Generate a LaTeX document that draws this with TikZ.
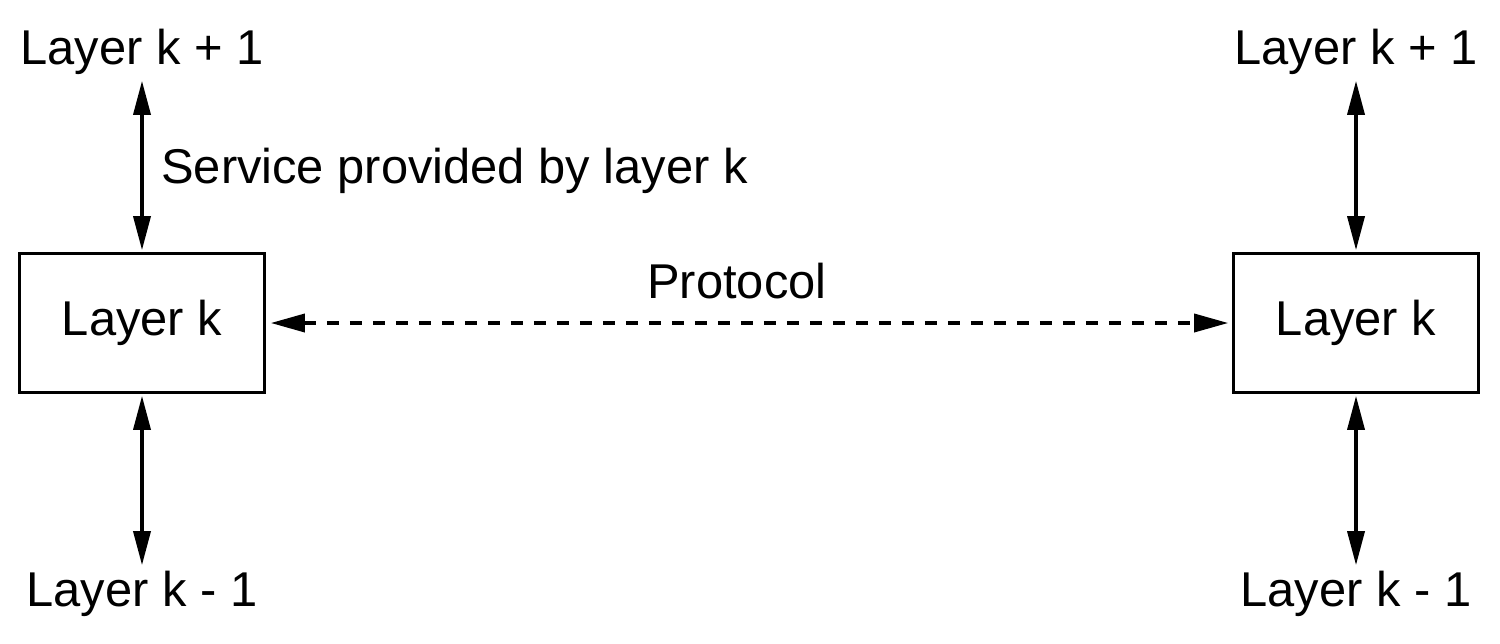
\documentclass[tikz,border=0pt]{standalone}
\usepackage{fontspec}
\setmainfont{Liberation Sans}
\usepackage{tikz}
\usetikzlibrary{positioning, arrows.meta}
\newcommand{\diagfont}{\fontsize{27.8pt}{33pt}\selectfont}
\tikzset{
  % Layer box
  layerbox/.style={
    rectangle, minimum width=4.9cm, minimum height=2.78cm,
    draw=black, line width=1.5pt, inner sep=0pt,
    font=\diagfont
  },
  % Plain text label
  lbl/.style={inner sep=2pt, font=\diagfont},
  % Arrow styles
  svc/.style={{Triangle[length=0.68cm, width=0.34cm]}-{Triangle[length=0.68cm, width=0.34cm]},
    line width=2pt, shorten <=0.04cm, shorten >=0.04cm},
  proto/.style={{Triangle[length=0.68cm, width=0.36cm]}-{Triangle[length=0.68cm, width=0.36cm]},
    line width=2pt, dash pattern=on 0.24cm off 0.22cm,
    shorten <=0.1cm, shorten >=0.08cm},
}
\begin{document}
\begin{tikzpicture}
  \useasboundingbox (0,0) rectangle (30,12.86);
  \node[layerbox] (kL) at (2.84,6.4) {Layer k};
  \node[layerbox] (kR) at (27.12,6.4) {Layer k};
  \node[lbl, above=4.0cm of kL.north, anchor=center] (upL) {Layer k + 1};
  \node[lbl, below=4.0cm of kL.south, anchor=center] (lowL) {Layer k - 1};
  \node[lbl, above=4.0cm of kR.north, anchor=center] (upR) {Layer k + 1};
  \node[lbl, below=4.0cm of kR.south, anchor=center] (lowR) {Layer k - 1};
  \draw[svc] (upL) -- (kL)
    node[midway, anchor=west, xshift=0.28cm, yshift=-0.1cm, lbl] {Service provided by layer k};
  \draw[svc] (kL) -- (lowL);
  \draw[svc] (upR) -- (kR);
  \draw[svc] (kR) -- (lowR);
  \draw[proto] (kL) -- (kR)
    node[midway, above=0.38cm, xshift=-0.24cm, lbl] {Protocol};
\end{tikzpicture}
\end{document}
